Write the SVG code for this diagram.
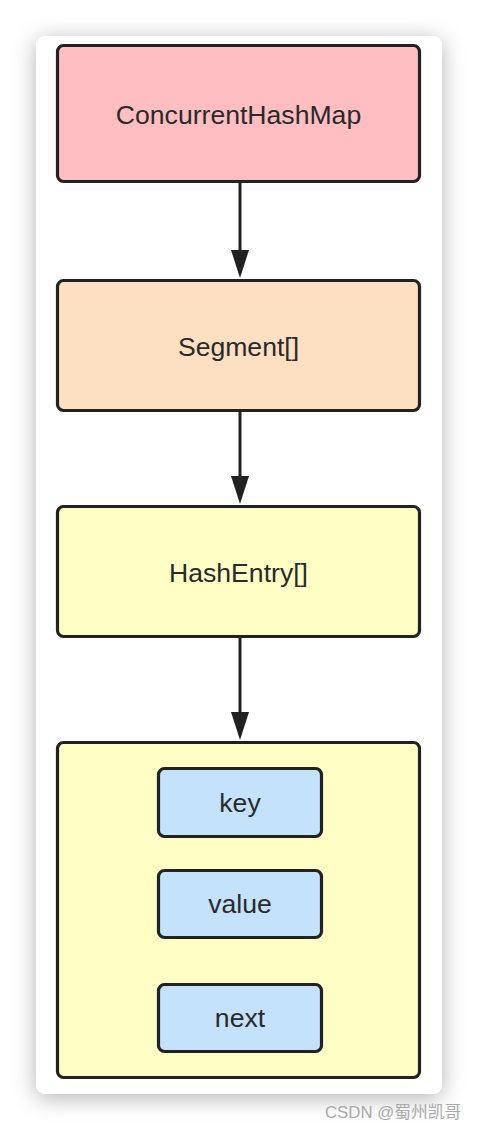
<svg xmlns="http://www.w3.org/2000/svg" width="478" height="1132" viewBox="0 0 478 1132">
  <style>
    .node rect { stroke: #222222; stroke-width: 3.2; }
    .label { font-family: "Liberation Sans", Arial, sans-serif; font-size: 26.6px; fill: #2a2a2a; text-anchor: middle; }
    .conn line { stroke: #222222; stroke-width: 3; }
    .conn polygon { fill: #222222; }
    .wm { font-family: "Liberation Sans", "Noto Sans CJK SC", sans-serif; font-size: 16.8px; fill: #aaaaaa; }
  </style>
  <defs>
    <filter id="shadow" x="-20%" y="-10%" width="140%" height="120%">
      <feDropShadow dx="0" dy="4" stdDeviation="11" flood-color="#000000" flood-opacity="0.3"/>
    </filter>
  </defs>
  <rect x="0" y="0" width="478" height="1132" fill="#ffffff"/>
  <rect id="card" x="36" y="36" width="406" height="1058" rx="9" fill="#ffffff" filter="url(#shadow)"/>

  <g id="connectors" class="conn">
    <line x1="240" y1="182" x2="240" y2="252"/>
    <polygon points="231,250 249,250 240,278"/>
    <line x1="240" y1="411" x2="240" y2="478"/>
    <polygon points="231,476 249,476 240,504"/>
    <line x1="240" y1="637" x2="240" y2="714"/>
    <polygon points="231,712 249,712 240,740"/>
  </g>

  <g id="n-chm" class="node">
    <rect x="57.5" y="45.5" width="362" height="136" rx="6" fill="#FFBEC1"/>
    <text class="label" x="238.5" y="124">ConcurrentHashMap</text>
  </g>
  <g id="n-segment" class="node">
    <rect x="57.5" y="280.5" width="362" height="130" rx="6" fill="#FDDFC2"/>
    <text class="label" x="238.5" y="356">Segment[]</text>
  </g>
  <g id="n-hashentry" class="node">
    <rect x="57.5" y="506.5" width="362" height="130" rx="6" fill="#FFFEC5"/>
    <text class="label" x="238.5" y="582">HashEntry[]</text>
  </g>
  <g id="n-entry" class="node">
    <rect x="57.5" y="742.5" width="362" height="335" rx="6" fill="#FFFEC5"/>
  </g>
  <g id="n-key" class="node">
    <rect x="158.5" y="768.5" width="163" height="68" rx="6" fill="#C4E2FC"/>
    <text class="label" x="240" y="812">key</text>
  </g>
  <g id="n-value" class="node">
    <rect x="158.5" y="870.5" width="163" height="67" rx="6" fill="#C4E2FC"/>
    <text class="label" x="240" y="913">value</text>
  </g>
  <g id="n-next" class="node">
    <rect x="158.5" y="984.5" width="163" height="67" rx="6" fill="#C4E2FC"/>
    <text class="label" x="240" y="1027">next</text>
  </g>

  <text class="wm" x="325" y="1118">CSDN @蜀州凯哥</text>
</svg>
